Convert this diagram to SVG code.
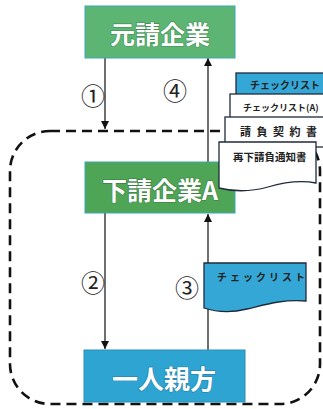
<svg xmlns="http://www.w3.org/2000/svg" width="323" height="409" viewBox="0 0 323 409">
<defs>
<style>
.box-label{font-family:"Noto Sans CJK JP","Noto Sans",sans-serif;font-weight:bold;fill:#ffffff;text-anchor:middle;dominant-baseline:central;paint-order:stroke;stroke-width:1.2}
.num{font-family:"Noto Sans CJK JP","DejaVu Sans",sans-serif;font-size:24px;fill:#222;text-anchor:middle;dominant-baseline:central}
.doc-text{font-family:"Noto Sans CJK JP",sans-serif;fill:#222;dominant-baseline:central;font-weight:bold}
.doc{stroke:#1e2a3a;stroke-width:1.3}
.line{stroke:#222;stroke-width:1.3;fill:none}
</style>
<marker id="ah" viewBox="0 0 10 10" refX="10" refY="5" markerWidth="8" markerHeight="8" markerUnits="userSpaceOnUse" orient="auto">
<path d="M0,0 L10,5 L0,10 Z" fill="#111"/>
</marker>
</defs>
<rect width="323" height="409" fill="#ffffff"/>

<g id="boundary">
<rect x="10" y="131" width="310" height="273" rx="40" ry="40" fill="none" stroke="#111" stroke-width="2.6" stroke-dasharray="10,6"/>
</g>

<g id="connectors">
<line class="line" x1="105" y1="58" x2="105" y2="129" marker-end="url(#ah)"/>
<line class="line" x1="208" y1="162" x2="208" y2="58" marker-end="url(#ah)"/>
<line class="line" x1="105" y1="213" x2="105" y2="349" marker-end="url(#ah)"/>
<line class="line" x1="208" y1="350" x2="208" y2="214" marker-end="url(#ah)"/>
<text class="num" x="93" y="94">①</text>
<text class="num" x="175" y="89">④</text>
<text class="num" x="93" y="281">②</text>
<text class="num" x="187" y="286">③</text>
</g>

<g id="motouke">
<rect x="85" y="6" width="150" height="52" fill="#5db574" stroke="#3aa8b4" stroke-width="1"/>
<text class="box-label" x="160" y="33" font-size="25" stroke="#3f8f55">元請企業</text>
</g>

<g id="shitauke-a">
<rect x="85" y="162" width="150" height="51" fill="#4ea556" stroke="#3aa8b4" stroke-width="1"/>
<text class="box-label" x="160" y="189" font-size="25" stroke="#3a7f43">下請企業A</text>
</g>

<g id="hitori-oyakata">
<rect x="84" y="350" width="161" height="52" fill="#2ea4d2" stroke="#2a8fb8" stroke-width="1"/>
<text class="box-label" x="164" y="377" font-size="26" stroke="#1f7ea6">一人親方</text>
</g>

<g id="doc-checklist-top">
<rect class="doc" x="236" y="73" width="100" height="30" fill="#35a7d6"/>
<text class="doc-text" x="250" y="84" font-size="10" textLength="70" lengthAdjust="spacing">チェックリスト</text>
</g>
<g id="doc-checklist-a">
<rect class="doc" x="230" y="94" width="100" height="30" fill="#ffffff"/>
<text class="doc-text" x="243" y="107" font-size="9" font-weight="normal">チェックリスト(A)</text>
</g>
<g id="doc-contract">
<rect class="doc" x="225" y="117" width="105" height="30" fill="#ffffff"/>
<text class="doc-text" x="240" y="131" font-size="11" letter-spacing="5.5">請負契約書</text>
</g>
<g id="doc-notice">
<path class="doc" d="M219,142 H316 V183 C300,180 285,182 268,187 C250,192 235,192 219,188 Z" fill="#ffffff"/>
<text class="doc-text" x="233" y="156" font-size="10.5">再下請負通知書</text>
</g>

<g id="doc-checklist-3">
<path class="doc" d="M204,263 H306 V301 C282,299 264,305 247,309 C231,313 216,312 204,308 Z" fill="#35a7d6"/>
<text class="doc-text" x="217" y="276" font-size="10" letter-spacing="3">チェックリスト</text>
</g>
</svg>
